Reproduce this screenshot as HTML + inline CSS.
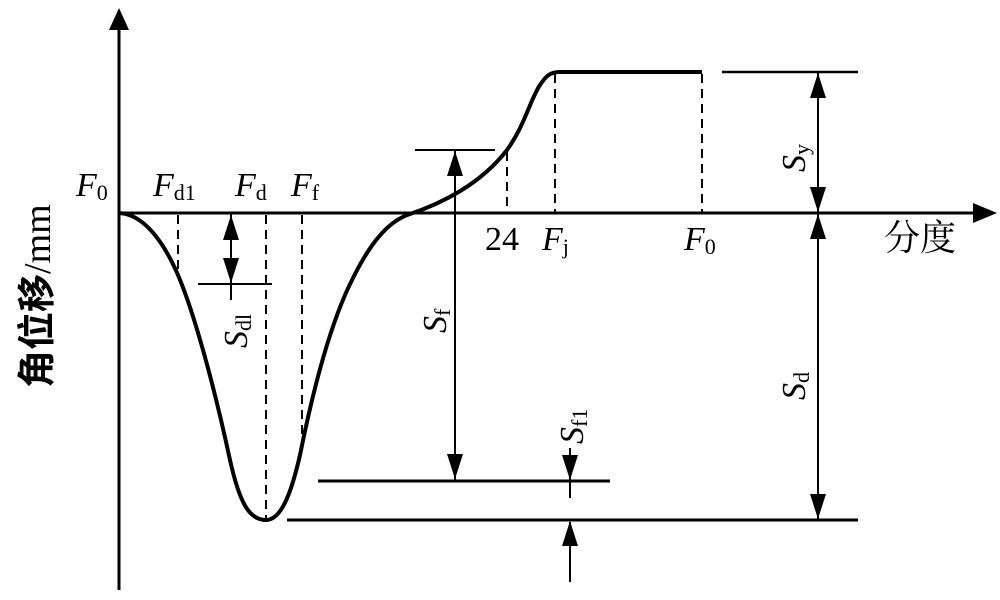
<!DOCTYPE html>
<html><head><meta charset="utf-8"><style>body{margin:0;background:#fff}svg{display:block}text{font-family:"Liberation Serif","Noto Serif CJK SC",serif;fill:#000}</style></head><body>
<svg width="1000" height="600" viewBox="0 0 1000 600" xmlns="http://www.w3.org/2000/svg">
<g stroke="#000" fill="none">
<line x1="119" y1="590" x2="119" y2="28" stroke-width="3"/>
<path d="M109,30L119,8L129,30z" fill="#000" stroke="none"/>
<line x1="119" y1="213" x2="975" y2="213" stroke-width="3"/>
<path d="M973,203L997,213L973,223z" fill="#000" stroke="none"/>
<path d="M119,213 C145,214 165,245 178,275 C195,315 215,390 230,460 C240,505 250,520 266,520 C282,520 292,490 300,455 C315,380 330,330 345,295 C365,250 385,222 410,214 C440,204 480,185 507,150 C525,125 530,100 540,85 C546,76 550,72 560,72 L702,72" stroke-width="4"/>
<g stroke-width="2" stroke-dasharray="9,6">
<line x1="178" y1="215" x2="178" y2="276"/>
<line x1="266" y1="215" x2="266" y2="518"/>
<line x1="302" y1="215" x2="302" y2="440"/>
<line x1="507" y1="152" x2="507" y2="213"/>
<line x1="555" y1="74" x2="555" y2="213"/>
<line x1="702" y1="74" x2="702" y2="213"/>
</g>
<g stroke-width="2">
<line x1="198" y1="284" x2="272" y2="284"/>
<line x1="231" y1="213" x2="231" y2="300"/>
<line x1="415" y1="150" x2="495" y2="150"/>
<line x1="455" y1="150" x2="455" y2="480"/>
<line x1="570" y1="448" x2="570" y2="498"/>
<line x1="570" y1="522" x2="570" y2="582"/>
<line x1="818" y1="72" x2="818" y2="520"/>
</g>
<line x1="318" y1="481" x2="610" y2="481" stroke-width="3"/>
<line x1="287" y1="520" x2="858" y2="520" stroke-width="3"/>
<line x1="722" y1="72" x2="858" y2="72" stroke-width="2.5"/>
</g>
<g fill="#000">
<path d="M223,240L231,215L239,240z"/><path d="M223,258L231,283L239,258z"/>
<path d="M447,176L455,151L463,176z"/><path d="M447,454L455,479L463,454z"/>
<path d="M562,455L570,480L578,455z"/><path d="M562,546L570,521L578,546z"/>
<path d="M810,98L818,73L826,98z"/><path d="M810,187L818,212L826,187z"/>
<path d="M810,239L818,214L826,239z"/><path d="M810,494L818,519L826,494z"/>
</g>
<g font-size="34">
<text x="76" y="196"><tspan font-style="italic">F</tspan><tspan font-size="22" dy="4">0</tspan></text>
<text x="153" y="196"><tspan font-style="italic">F</tspan><tspan font-size="22" dy="4">d1</tspan></text>
<text x="235" y="196"><tspan font-style="italic">F</tspan><tspan font-size="22" dy="4">d</tspan></text>
<text x="291" y="196"><tspan font-style="italic">F</tspan><tspan font-size="22" dy="4">f</tspan></text>
<text x="485" y="250">24</text>
<text x="542" y="250"><tspan font-style="italic">F</tspan><tspan font-size="22" dy="4">j</tspan></text>
<text x="684" y="250"><tspan font-style="italic">F</tspan><tspan font-size="22" dy="4">0</tspan></text>
<text x="884" y="250" font-family="'Noto Sans CJK SC',sans-serif" font-size="36">分度</text>
<text transform="translate(247,348) rotate(-90)"><tspan font-style="italic">S</tspan><tspan font-size="22" dy="4">dl</tspan></text>
<text transform="translate(446,333) rotate(-90)"><tspan font-style="italic">S</tspan><tspan font-size="22" dy="4">f</tspan></text>
<text transform="translate(805,172) rotate(-90)"><tspan font-style="italic">S</tspan><tspan font-size="22" dy="4">y</tspan></text>
<text transform="translate(805,400) rotate(-90)"><tspan font-style="italic">S</tspan><tspan font-size="22" dy="4">d</tspan></text>
<text transform="translate(583,444) rotate(-90)"><tspan font-style="italic">S</tspan><tspan font-size="22" dy="4">f1</tspan></text>
<text transform="translate(50,388) rotate(-90)" font-size="38"><tspan font-family="'Noto Sans CJK SC',sans-serif" font-weight="bold">角位移</tspan>/mm</text>
</g>
</svg>
</body></html>
